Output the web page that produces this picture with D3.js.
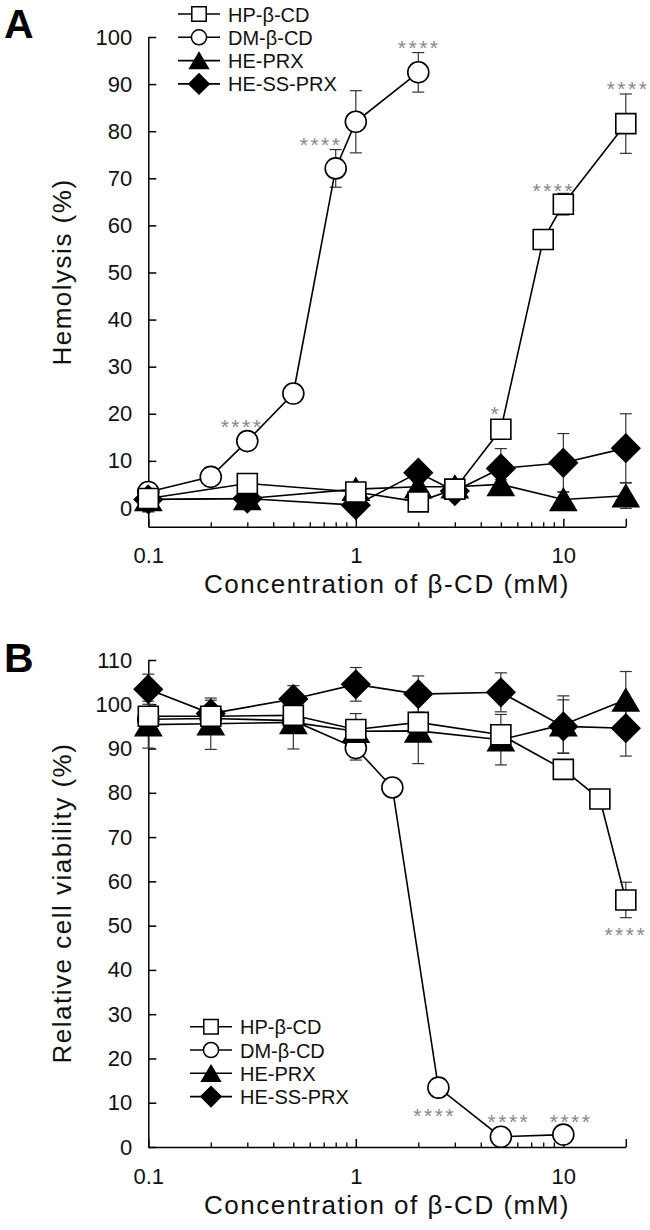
<!DOCTYPE html>
<html>
<head>
<meta charset="utf-8">
<script src="https://cdn.jsdelivr.net/npm/d3@7"></script>
<style>
  html, body { margin: 0; padding: 0; background: #fff; }
  svg { display: block; }
</style>
</head>
<body>
<div id="chart"></div>
<script>
// ---------------- DATA ----------------
const seriesNames = ["HP-β-CD", "DM-β-CD", "HE-PRX", "HE-SS-PRX"];
const xTickLabels = ["0.1", "1", "10"];
const xMajorTicks = [0.1, 1, 10, 20];
const xMinorTicks = [0.2, 0.3, 0.4, 0.5, 0.6, 0.7, 0.8, 0.9, 2, 3, 4, 5, 6, 7, 8, 9];
const yTicksA = [0, 10, 20, 30, 40, 50, 60, 70, 80, 90, 100];
const yTicksB = [0, 10, 20, 30, 40, 50, 60, 70, 80, 90, 100, 110];

// Panel A: hemolysis (%)
const xA_HP  = [0.1, 0.3, 1, 2, 3, 5, 8, 10, 20];
const yA_HP  = [2.0, 5.2, 3.4, 1.3, 4.0, 16.7, 57.0, 64.5, 81.6];
const eA_HP  = [2.8, 1.0, 1.0, 0.5, 1.0, 1.0, 0.5, 2.3, 6.3];
const xA_DM  = [0.1, 0.2, 0.3, 0.5, 0.8, 1, 2];
const yA_DM  = [3.4, 6.6, 14.2, 24.3, 72.1, 82.0, 92.5];
const eA_DM  = [0.5, 0.5, 0.8, 0.8, 4.0, 6.6, 4.2];
const xA_PRX = [0.1, 0.3, 1, 2, 3, 5, 10, 20];
const yA_PRX = [1.8, 2.0, 4.0, 4.5, 4.5, 5.0, 1.8, 2.6];
const eA_PRX = [2.6, 2.3, 1.0, 1.0, 1.0, 1.0, 1.6, 2.7];
const xA_SS  = [0.1, 0.3, 1, 2, 3, 5, 10, 20];
const yA_SS  = [1.8, 2.0, 0.6, 7.5, 3.6, 8.4, 9.6, 12.7];
const eA_SS  = [1.0, 1.0, 1.0, 1.0, 1.0, 4.2, 6.2, 7.3];

// Panel B: relative cell viability (%)
const xB_HP  = [0.1, 0.2, 0.5, 1, 2, 5, 10, 15, 20];
const yB_HP  = [97.3, 97.3, 97.5, 94.3, 95.9, 93.1, 85.3, 78.6, 55.8];
const eB_HP  = [2.0, 2.0, 2.0, 2.0, 2.0, 2.0, 1.5, 1.5, 4.0];
const xB_DM  = [0.1, 0.2, 0.5, 1, 1.5, 2.5, 5, 10];
const yB_DM  = [96.6, 96.8, 96.3, 90.1, 81.2, 13.4, 2.3, 2.8];
const eB_DM  = [1.0, 1.0, 1.0, 2.7, 1.0, 1.0, 0.5, 0.5];
const xB_PRX = [0.1, 0.2, 0.5, 1, 2, 5, 10, 20];
const yB_PRX = [95.4, 95.6, 95.9, 93.9, 94.0, 92.0, 95.4, 101.0];
const eB_PRX = [5.3, 5.8, 6.0, 4.0, 7.4, 5.7, 6.5, 6.4];
const xB_SS  = [0.1, 0.2, 0.5, 1, 2, 5, 10, 20];
const yB_SS  = [103.4, 97.9, 101.2, 104.5, 102.3, 102.7, 95.0, 94.6];
const eB_SS  = [3.4, 3.0, 3.0, 3.8, 4.1, 4.4, 6.0, 6.3];

// significance marks (data coordinates)
const starsA_x = [0.283, 0.68, 2.02, 4.73, 9.0, 20.5];
const starsA_y = [18.3, 78.2, 98.8, 21.0, 68.4, 90.0];
const starsA_t = ["****", "****", "****", "*", "****", "****"];
const starsB_x = [20, 2.4, 5.47, 10.9];
const starsB_y = [49.1, 8.2, 6.7, 6.8];
const starsB_t = ["****", "****", "****", "****"];

// ---------------- DRAWING ----------------
const W = 650, H = 1230;
const FONT = "'Liberation Sans', Arial, Helvetica, sans-serif";
const svg = d3.select("#chart").append("svg").attr("width", W).attr("height", H)
  .style("font-family", FONT);

function markerPath(type, s) {
  s = s || 1;
  if (type === "square") { const h = 10 * s; return `M${-h},${-h}H${h}V${h}H${-h}Z`; }
  if (type === "circle") { const r = 10.5 * s; return `M${r},0A${r},${r} 0 1,1 ${-r},0A${r},${r} 0 1,1 ${r},0Z`; }
  if (type === "triangle") { const w = 13 * s, h = 11 * s; return `M0,${-h}L${w},${h}L${-w},${h}Z`; }
  if (type === "diamond") { const h = 14 * s; return `M0,${-h}L${h},0L0,${h}L${-h},0Z`; }
}
const symbolOf = ["square", "circle", "triangle", "diamond"];
const fillOf = ["#fff", "#fff", "#000", "#000"];
const drawOrder = [1, 2, 3, 0]; // circle, triangle, diamond, square on top

function drawPanel(p) {
  const g = svg.append("g");
  const x = d3.scaleLog().domain([0.1, 20]).range([148.3, 625.8]);
  const y = d3.scaleLinear().domain(p.yDomain).range(p.yRange);
  const y0 = p.yRange[0];

  // Y axis
  const ya = g.append("g").attr("transform", "translate(148.3,0)")
    .call(d3.axisLeft(y).tickValues(p.yTicks).tickSizeInner(-8).tickSizeOuter(0).tickPadding(16));
  ya.select(".domain").attr("stroke", "#000").attr("stroke-width", 1.5);
  ya.selectAll(".tick line").attr("stroke", "#000").attr("stroke-width", 1.5);
  ya.selectAll(".tick text").attr("font-size", 22).attr("fill", "#111").attr("font-family", FONT);

  // X axis major
  const xa = g.append("g").attr("transform", `translate(0,${y0})`)
    .call(d3.axisBottom(x).tickValues(xMajorTicks).tickSizeInner(-8).tickSizeOuter(0)
      .tickFormat((d) => { const i = [0.1, 1, 10].indexOf(d); return i >= 0 ? xTickLabels[i] : ""; }));
  xa.select(".domain").attr("stroke", "#000").attr("stroke-width", 1.5);
  xa.selectAll(".tick line").attr("stroke", "#000").attr("stroke-width", 1.5);
  xa.selectAll(".tick text").attr("font-size", 22).attr("fill", "#111").attr("font-family", FONT)
    .attr("y", 36.5).attr("dy", null);
  // X axis minor
  const xm = g.append("g").attr("transform", `translate(0,${y0})`)
    .call(d3.axisBottom(x).tickValues(xMinorTicks).tickSizeInner(-4.5).tickSizeOuter(0).tickFormat(""));
  xm.select(".domain").remove();
  xm.selectAll(".tick line").attr("stroke", "#000").attr("stroke-width", 1.3);

  // Titles
  g.append("text").attr("x", 387).attr("y", y0 + 66.5).attr("text-anchor", "middle")
    .attr("font-size", 26).attr("letter-spacing", 1.5).attr("fill", "#111")
    .text("Concentration of β-CD (mM)");
  g.append("text").attr("transform", `translate(71,${p.yTitleCenter}) rotate(-90)`)
    .attr("text-anchor", "middle").attr("font-size", 26).attr("letter-spacing", 1.5).attr("fill", "#111")
    .text(p.yTitle);
  g.append("text").attr("x", 4).attr("y", p.letterY).attr("font-size", 41).attr("font-weight", "bold")
    .attr("fill", "#000").text(p.letter);

  const data = p.series.map((s, i) => s.x.map((xx, j) => ({ x: xx, y: s.y[j], e: s.e[j], i })));

  // Error bars
  const eg = g.append("g").attr("stroke", "#333").attr("stroke-width", 1.2).attr("fill", "none");
  data.flat().forEach(d => {
    const cx = x(d.x), yt = y(d.y + d.e), yb = y(d.y - d.e);
    eg.append("line").attr("x1", cx).attr("x2", cx).attr("y1", yt).attr("y2", yb);
    eg.append("line").attr("x1", cx - 6).attr("x2", cx + 6).attr("y1", yt).attr("y2", yt);
    eg.append("line").attr("x1", cx - 6).attr("x2", cx + 6).attr("y1", yb).attr("y2", yb);
  });

  // Lines
  const line = d3.line().x(d => x(d.x)).y(d => y(d.y));
  data.forEach(ds => {
    g.append("path").attr("d", line(ds)).attr("fill", "none").attr("stroke", "#000").attr("stroke-width", 1.6);
  });

  // Markers
  drawOrder.forEach(i => {
    g.append("g").selectAll("path").data(data[i]).join("path")
      .attr("d", markerPath(symbolOf[i]))
      .attr("transform", d => `translate(${x(d.x)},${y(d.y)})`)
      .attr("fill", fillOf[i]).attr("stroke", "#000").attr("stroke-width", 1.6);
  });

  // Significance stars
  g.append("g").selectAll("text").data(p.stars).join("text")
    .attr("x", d => x(d.x)).attr("y", d => y(d.y) + 12)
    .attr("text-anchor", "middle").attr("font-size", 21).attr("letter-spacing", 2.5)
    .attr("fill", "#888").text(d => d.t);

  // Legend
  const lg = g.append("g");
  seriesNames.forEach((name, i) => {
    const ly = p.legend.y + i * 23.3;
    lg.append("line").attr("x1", p.legend.x).attr("x2", p.legend.x + 42).attr("y1", ly).attr("y2", ly)
      .attr("stroke", "#000").attr("stroke-width", 1.6);
    lg.append("path").attr("d", markerPath(symbolOf[i], 0.72))
      .attr("transform", `translate(${p.legend.x + 21},${ly})`)
      .attr("fill", fillOf[i]).attr("stroke", "#000").attr("stroke-width", 1.5);
    lg.append("text").attr("x", p.legend.x + 50).attr("y", ly + 7.5).attr("font-size", 20)
      .attr("fill", "#111").text(name);
  });
}

drawPanel({
  letter: "A", letterY: 37.5,
  yDomain: [-4, 100], yRange: [526.8, 37], yTicks: yTicksA,
  yTitle: "Hemolysis (%)", yTitleCenter: 272,
  series: [
    { x: xA_HP, y: yA_HP, e: eA_HP },
    { x: xA_DM, y: yA_DM, e: eA_DM },
    { x: xA_PRX, y: yA_PRX, e: eA_PRX },
    { x: xA_SS, y: yA_SS, e: eA_SS }
  ],
  stars: starsA_x.map((v, i) => ({ x: v, y: starsA_y[i], t: starsA_t[i] })),
  legend: { x: 178, y: 14 }
});

drawPanel({
  letter: "B", letterY: 671.5,
  yDomain: [0, 110], yRange: [1147, 660], yTicks: yTicksB,
  yTitle: "Relative cell viability (%)", yTitleCenter: 903,
  series: [
    { x: xB_HP, y: yB_HP, e: eB_HP },
    { x: xB_DM, y: yB_DM, e: eB_DM },
    { x: xB_PRX, y: yB_PRX, e: eB_PRX },
    { x: xB_SS, y: yB_SS, e: eB_SS }
  ],
  stars: starsB_x.map((v, i) => ({ x: v, y: starsB_y[i], t: starsB_t[i] })),
  legend: { x: 190, y: 1026.7 }
});
</script>
</body>
</html>
